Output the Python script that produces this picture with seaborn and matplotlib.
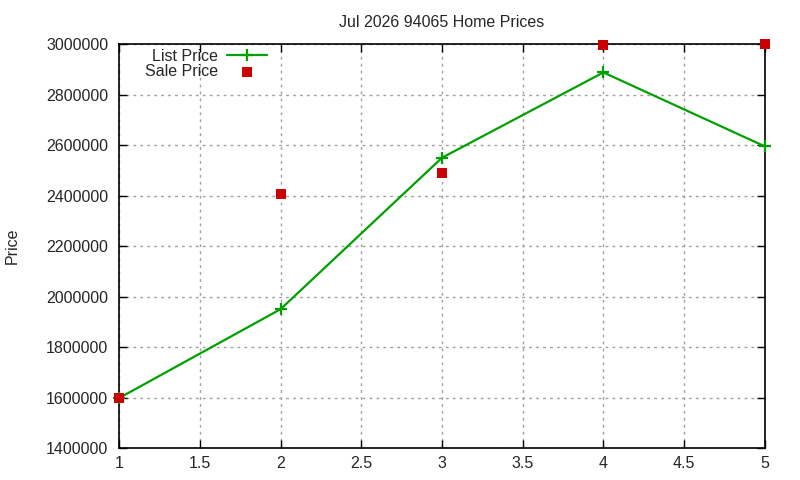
import matplotlib
matplotlib.use("Agg")
import matplotlib.pyplot as plt
import seaborn as sns
import pandas as pd

x_vals = [1, 2, 3, 4, 5]
list_price = [1598000, 1950000, 2550000, 2888000, 2595000]
sale_price = [1600000, 2408000, 2488000, 2995000, 3000000]
y_ticks = [1400000, 1600000, 1800000, 2000000, 2200000, 2400000, 2600000, 2800000, 3000000]
x_ticks = [1, 1.5, 2, 2.5, 3, 3.5, 4, 4.5, 5]
x_tick_labels = ["1", "1.5", "2", "2.5", "3", "3.5", "4", "4.5", "5"]
title = "Jul 2026 94065 Home Prices"

sns.set_style("white")
plt.rcParams['font.family'] = ['Liberation Sans', 'DejaVu Sans']

df = pd.DataFrame({"x": x_vals, "list": list_price, "sale": sale_price})

fig, ax = plt.subplots(figsize=(8, 4.8), dpi=100)
fig.subplots_adjust(left=0.149, right=0.956, top=0.908, bottom=0.0667)

sns.lineplot(data=df, x="x", y="list", ax=ax, color="#00a000", linewidth=1.6,
             marker="+", markersize=8, markeredgewidth=1.6, markeredgecolor="#00a000",
             label="List Price", zorder=3, clip_on=False)
sns.scatterplot(data=df, x="x", y="sale", ax=ax, color="#cc0000", marker="s", s=45,
                linewidth=0, label="Sale Price", zorder=4, clip_on=False)

ax.set_xlim(1, 5)
ax.set_ylim(1400000, 3000000)
ax.set_xticks(x_ticks)
ax.set_xticklabels(x_tick_labels)
ax.set_yticks(y_ticks)
ax.set_yticklabels([str(v) for v in y_ticks])
ax.tick_params(axis="both", direction="in", length=6, width=1, labelsize=11.5, color="black",
               top=True, right=True, bottom=True, left=True)
ax.tick_params(axis="y", pad=8)
ax.tick_params(axis="x", pad=6)
ax.grid(True, color="#a0a0a0", linestyle=(0, (2, 3)), linewidth=1)
for s in ax.spines.values():
    s.set_color("black")
    s.set_linewidth(1.2)
ax.set_xlabel("")
ax.set_ylabel("Price", fontsize=11.5, labelpad=19)
ax.set_title(title, fontsize=11.5, pad=12)

leg = ax.legend(loc="upper left", bbox_to_anchor=(0.022, 1.016), frameon=False, markerfirst=False,
                fontsize=11.5, handlelength=2.5, borderaxespad=0.3, labelspacing=0.0,
                handletextpad=0.6)
for t in leg.get_texts():
    t.set_ha("right")
    t.set_position((0, 0))
leg._legend_box.align = "right"

fig.savefig("out.png", dpi=100)
